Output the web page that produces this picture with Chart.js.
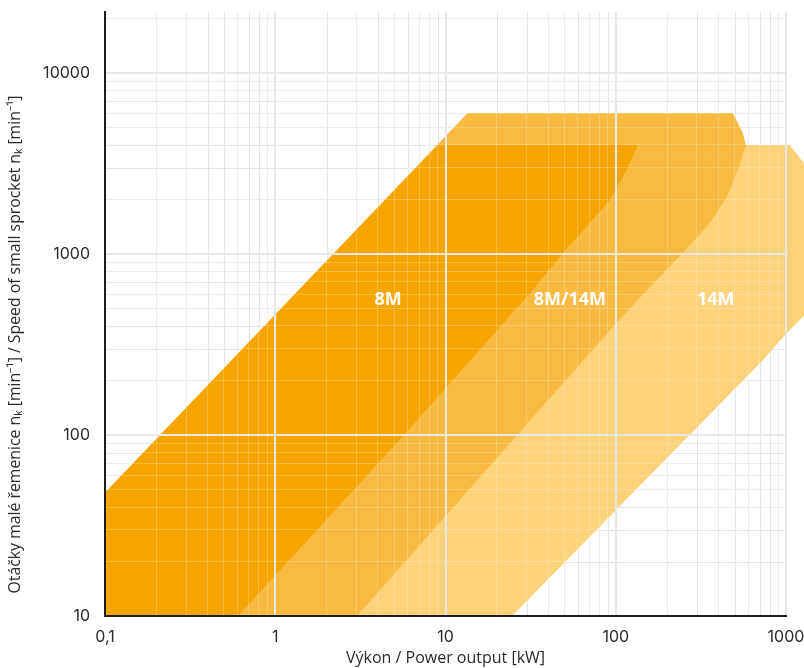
<!DOCTYPE html>
<html><head><meta charset="utf-8">
<script src="https://cdn.jsdelivr.net/npm/chart.js@4/dist/chart.umd.min.js"></script>
<style>html,body{margin:0;padding:0;background:#fff;}#wrap{width:804px;height:668px;}</style>
</head><body><div id="wrap"><canvas id="c" width="804" height="668"></canvas></div>
<script>
// ---- data ----
const regionNames = ['8M', '8M/14M', '14M'];
// 8M region outline: power [kW] / speed [min-1]
const power8M = [0.1, 0.1, 9.0, 135, 116, 92.3, 70.5, 48.9, 32.6, 5.7, 0.604];
const speed8M = [10, 48, 4000, 4000, 2911, 1986, 1483, 1014, 632, 100, 10];
// 8M/14M region outline
const power8M14M = [0.1, 0.1, 13.5, 487, 557, 581, 521, 449, 357, 248, 158.5, 96.1, 3.02];
const speed8M14M = [10, 48, 6000, 6000, 4670, 4000, 2911, 2066, 1483, 1014, 657, 395, 10];
// 14M region outline
const power14M = [2.5, 400, 1052, 1274, 1500, 1500, 1274, 1011, 731, 24.6];
const speed14M = [10, 4000, 4000, 3184, 2200, 520, 454, 366, 259, 10];
// tick labels
const xTickValues = [0.1, 1, 10, 100, 1000];
const xTickLabels = ['0,1', '1', '10', '100', '1000'];
const yTickValues = [10, 100, 1000, 10000];
const yTickLabels = ['10', '100', '1000', '10000'];
// region label anchors (power, speed)
const regionLabelPower = [4.6, 53.8, 387];
const regionLabelSpeed = [557, 557, 557];
const xAxisTitle = 'Výkon / Power output [kW]';
const yAxisTitle = 'Otáčky malé řemenice nₖ [min⁻¹] / Speed of small sprocket nₖ [min⁻¹]';

const regionColors = ['#F5A500', '#F8BA40', '#FDD27A'];

function toPoints(px, py) { return px.map((v, i) => ({x: v, y: py[i]})); }
function isDecade(v) { const l = Math.log10(v); return Math.abs(l - Math.round(l)) < 1e-6; }
function isNiceLog(v) {
  const e = Math.floor(Math.log10(v) + 1e-9);
  const m = v / Math.pow(10, e);
  return Math.abs(m - Math.round(m)) < 1e-6;
}
function labelFor(values, labels, v) {
  for (let i = 0; i < values.length; i++) if (Math.abs(values[i] - v) / values[i] < 1e-6) return labels[i];
  return '';
}

const layerPlugin = {
  id: 'layers',
  beforeDatasetsDraw(chart) {
    const {ctx, chartArea, scales: {x, y}} = chart;
    ctx.save();
    ctx.strokeStyle = '#e6e6e6';
    ctx.lineWidth = 1;
    ctx.beginPath();
    x.ticks.forEach(t => {
      const p = Math.round(x.getPixelForValue(t.value)) + 0.5;
      ctx.moveTo(p, chartArea.top); ctx.lineTo(p, chartArea.bottom);
    });
    y.ticks.forEach(t => {
      const p = Math.round(y.getPixelForValue(t.value)) + 0.5;
      ctx.moveTo(chartArea.left, p); ctx.lineTo(chartArea.right, p);
    });
    ctx.stroke();
    ctx.restore();
    chart.$savedRight = chartArea.right;
    chartArea.right = chart.width;
  },
  afterDatasetsDraw(chart) {
    chart.chartArea.right = chart.$savedRight;
  },
  afterDraw(chart) {
    const {ctx, scales: {x, y}} = chart;
    ctx.save();
    ctx.fillStyle = '#ffffff';
    ctx.font = 'bold 18px "Open Sans"';
    ctx.textAlign = 'center';
    ctx.textBaseline = 'middle';
    regionNames.forEach((n, i) => {
      ctx.fillText(n, x.getPixelForValue(regionLabelPower[i]), y.getPixelForValue(regionLabelSpeed[i]));
    });
    ctx.restore();
    // y axis title
    ctx.save();
    const cy = (y.getPixelForValue(yTickValues[0]) + y.getPixelForValue(yTickValues[yTickValues.length - 1])) / 2;
    ctx.translate(15, cy);
    ctx.rotate(-Math.PI / 2);
    ctx.fillStyle = '#2a2a2a';
    ctx.font = '15.8px "Open Sans"';
    ctx.textAlign = 'center';
    ctx.textBaseline = 'middle';
    ctx.fillText(yAxisTitle, 0, 0);
    ctx.restore();
  }
};

const gridColor = ctx => (ctx.tick && isDecade(ctx.tick.value)) ? '#e8e8e8' : 'rgba(255,255,255,0.24)';
const gridWidth = ctx => (ctx.tick && isDecade(ctx.tick.value)) ? 2 : 1;

new Chart(document.getElementById('c'), {
  type: 'line',
  data: {
    datasets: [
      {label: regionNames[0], data: toPoints(power8M, speed8M), backgroundColor: regionColors[0], fill: 'shape', borderWidth: 0, pointRadius: 0, tension: 0},
      {label: regionNames[1], data: toPoints(power8M14M, speed8M14M), backgroundColor: regionColors[1], fill: 'shape', borderWidth: 0, pointRadius: 0, tension: 0},
      {label: regionNames[2], data: toPoints(power14M, speed14M), backgroundColor: regionColors[2], fill: 'shape', borderWidth: 0, pointRadius: 0, tension: 0, clip: false}
    ]
  },
  options: {
    responsive: false,
    devicePixelRatio: 1,
    animation: false,
    layout: {padding: {top: 12, right: 18, left: 0, bottom: 0}},
    plugins: {legend: {display: false}, tooltip: {enabled: false}},
    scales: {
      x: {
        type: 'logarithmic', position: 'bottom', min: 0.1, max: 1000,
        afterBuildTicks: s => { s.ticks = s.ticks.filter(t => isNiceLog(t.value)); },
        afterFit: s => { s.height = 52; s.paddingLeft = 0; s.paddingRight = 0; },
        grid: {color: gridColor, lineWidth: gridWidth, drawTicks: false, z: 1},
        border: {color: '#1e1e1e', width: 2, z: 2},
        ticks: {autoSkip: false, maxRotation: 0, padding: 12, color: '#2a2a2a',
          font: {family: 'Inter', size: 16},
          callback: v => labelFor(xTickValues, xTickLabels, v)},
        title: {display: true, text: xAxisTitle, color: '#2a2a2a', font: {family: 'Open Sans', size: 16}, padding: {top: 0, bottom: 0}}
      },
      y: {
        type: 'logarithmic', position: 'left', min: 10, max: 21700,
        afterBuildTicks: s => { s.ticks = s.ticks.filter(t => isNiceLog(t.value)); },
        afterFit: s => { s.width = 105; s.paddingTop = 0; s.paddingBottom = 0; },
        grid: {color: gridColor, lineWidth: gridWidth, drawTicks: false, z: 1},
        border: {color: '#1e1e1e', width: 2, z: 2},
        ticks: {autoSkip: false, padding: 15, color: '#2a2a2a',
          font: {family: 'Inter', size: 16},
          callback: v => labelFor(yTickValues, yTickLabels, v)}
      }
    }
  },
  plugins: [layerPlugin]
});
</script>
</body></html>
